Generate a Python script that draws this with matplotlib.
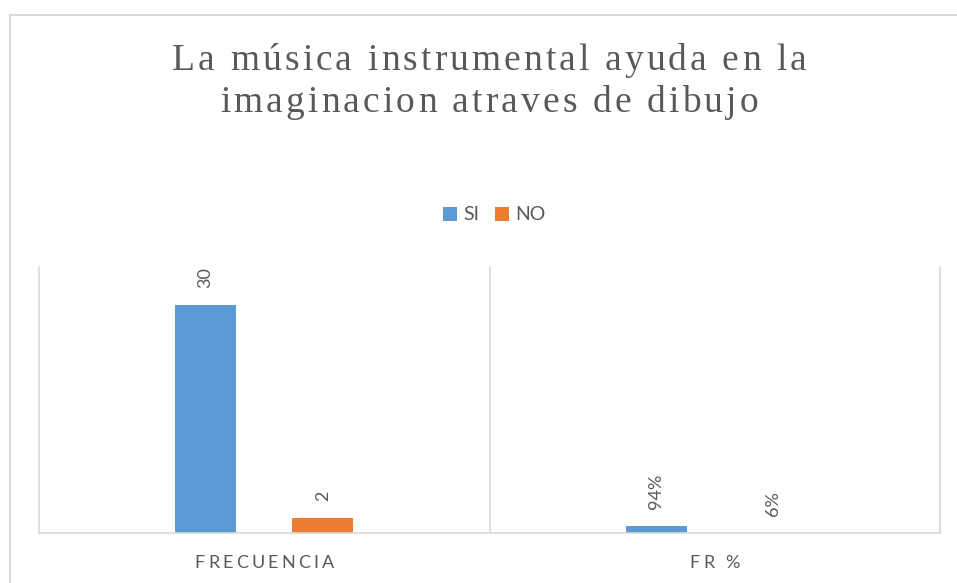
import numpy as np
import matplotlib
matplotlib.use('Agg')
import matplotlib.pyplot as plt
from matplotlib.font_manager import FontProperties, findfont
from matplotlib.ft2font import FT2Font
from matplotlib.lines import Line2D
from matplotlib.transforms import IdentityTransform

# data
categories = ['FRECUENCIA', 'FR %']
series_names = ['SI', 'NO']
si_values = [30, 0.94]
no_values = [2, 0.06]
si_labels = ['30', '94%']
no_labels = ['2', '6%']
title_lines = ['La música instrumental ayuda en la', 'imaginacion atraves de dibujo']

W, H, DPI = 957, 583, 100
blue = '#5B9BD5'
orange = '#ED7D31'
txt = '#595959'
grid = '#D9D9D9'

title_font = FontProperties(family='Liberation Serif', size=27)
cat_font = FontProperties(family='Lato', size=13)
lab_font = FontProperties(family='Lato', size=13)
leg_font = FontProperties(family='Lato', size=14)

fig = plt.figure(figsize=(W / DPI, H / DPI), dpi=DPI)
ax = fig.add_axes([39 / W, 1 - 533 / H, 901 / W, 266 / H])


def advances(s, prop):
    font = FT2Font(findfont(prop))
    font.set_size(prop.get_size_in_points(), DPI)
    return [font.load_char(ord(c)).linearHoriAdvance / 65536 for c in s]


def spaced_text(xc, yb, s, prop, gap):
    # xc, yb in display pixels (y from bottom), letter spacing in px
    adv = advances(s, prop)
    total = sum(adv) + gap * (len(s) - 1)
    x = xc - total / 2
    for ch, a in zip(s, adv):
        if ch != ' ':
            fig.text(x + a / 2, yb, ch, fontproperties=prop, color=txt,
                     ha='center', va='baseline', transform=IdentityTransform())
        x += a + gap


x = np.arange(len(categories))
bw = 0.136
off = 0.13
b1 = ax.bar(x - off, si_values, bw, color=blue, label=series_names[0])
b2 = ax.bar(x + off, no_values, bw, color=orange, label=series_names[1])

for bars, labels in [(b1, si_labels), (b2, no_labels)]:
    for r, t in zip(bars, labels):
        ax.annotate(t, (r.get_x() + r.get_width() / 2, r.get_height()),
                    xytext=(0, 12), textcoords='offset points', rotation=90,
                    ha='center', va='bottom', fontproperties=lab_font, color=txt)

ax.set_xlim(-0.5, 1.5)
ax.set_ylim(0, 35)
ax.set_xticks([])
ax.set_yticks([])
ax.spines['top'].set_visible(False)
for s in ['left', 'right', 'bottom']:
    ax.spines[s].set_color(grid)
    ax.spines[s].set_linewidth(1.2)
ax.axvline(0.5, color=grid, lw=1.2)

# category labels, letter spaced
fig.canvas.draw()
for i, c in enumerate(categories):
    px, _ = ax.transData.transform((i, 0))
    spaced_text(px, H - 568, c, cat_font, 3.2)

# title
spaced_text(489, H - 70, title_lines[0], title_font, 3.1)
spaced_text(489, H - 112, title_lines[1], title_font, 3.1)

# legend
fig.legend(handles=[b1, b2], labels=series_names, loc='center',
           bbox_to_anchor=(494 / W, 1 - 215 / H), ncol=2, frameon=False,
           prop=leg_font, handlelength=0.75, handleheight=0.75,
           handletextpad=0.3, columnspacing=0.8, labelcolor=txt)

# chart area border (cropped at right and bottom)
fig.add_artist(Line2D([9.5 / W, 9.5 / W], [0, 1 - 14.5 / H], transform=fig.transFigure, color=grid, lw=1.5))
fig.add_artist(Line2D([9.5 / W, 1], [1 - 14.5 / H, 1 - 14.5 / H], transform=fig.transFigure, color=grid, lw=1.5))

fig.savefig('out.png', dpi=DPI)
